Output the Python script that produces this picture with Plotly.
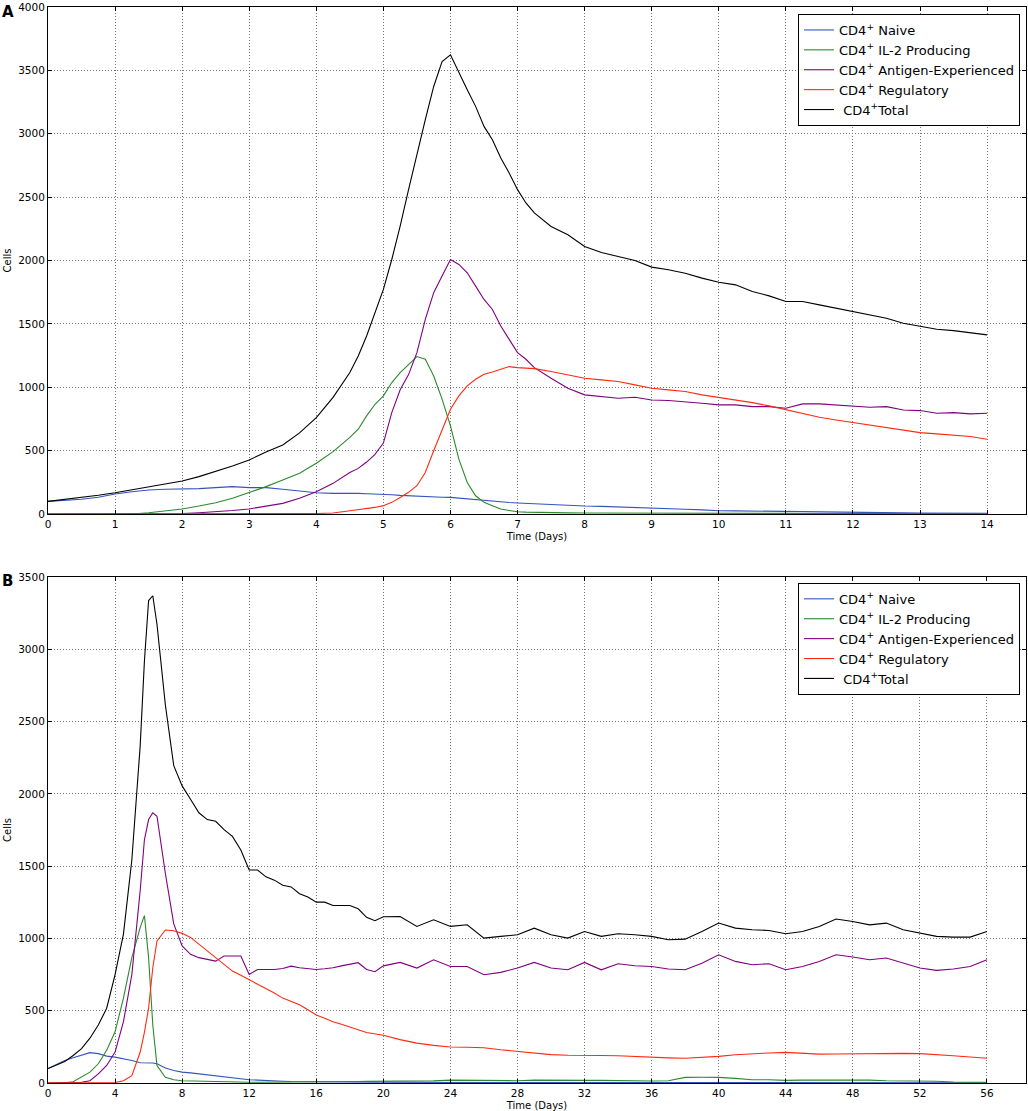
import plotly.graph_objects as go

# ---- panel A: first 14 days (finer sampling around the peak) ----
days_a = [0, 0.25, 0.5, 0.75, 1, 1.25, 1.5, 1.75, 2, 2.25, 2.5, 2.75, 3, 3.25, 3.5, 3.75, 4, 4.25,
          4.5, 4.625, 4.75, 4.875, 5, 5.125, 5.25, 5.375, 5.5, 5.625, 5.75, 5.875, 6, 6.125,
          6.25, 6.375, 6.5, 6.625, 6.75, 6.875, 7, 7.125, 7.25,
          7.5, 7.75, 8, 8.25, 8.5, 8.75, 9, 9.25, 9.5, 9.75, 10, 10.25, 10.5, 10.75,
          11, 11.25, 11.5, 11.75, 12, 12.25, 12.5, 12.75, 13, 13.25, 13.5, 13.75, 14]

naive_a = [100, 105, 116, 132, 158, 176, 190, 195, 195, 200, 208, 216, 208, 208, 195, 184, 168, 163,
           165, 163, 160, 159, 158, 152, 147, 143, 139, 136, 134, 132, 131, 125,
           118, 111, 105, 100, 95, 91, 87, 84, 80,
           72, 68, 63, 60, 55, 50, 42, 40, 37, 33, 26, 25, 23, 20,
           18, 16, 14, 13, 11, 10, 9, 9, 8, 7, 6, 6, 5]
il2_a = [0, 0, 0, 0, 0, 0, 10, 26, 40, 63, 89, 124, 168, 216, 268, 321, 400, 492,
         604, 669, 774, 866, 932, 1037, 1116, 1181, 1242, 1221, 1089, 906, 696, 433,
         249, 144, 92, 66, 39, 28, 18, 15, 13,
         11, 9, 8, 8, 8, 9, 10, 9, 8, 7, 6, 5, 5, 5,
         5, 4, 4, 4, 3, 3, 3, 3, 3, 3, 3, 3, 3]
antigen_a = [0, 0, 0, 0, 0, 0, 0, 1, 3, 10, 18, 28, 40, 60, 84, 124, 176, 242,
             328, 360, 410, 470, 560, 800, 980, 1100, 1273, 1536, 1746, 1877, 2008, 1969,
             1903, 1798, 1693, 1614, 1483, 1378, 1273, 1221, 1155,
             1071, 992, 940, 926, 913, 921, 900, 895, 887, 874, 861, 861, 847, 847,
             834, 869, 869, 861, 853, 842, 847, 821, 816, 795, 800, 790, 795]
treg_a = [0, 0, 0, 0, 0, 1, 1, 1, 2, 2, 2, 2, 3, 3, 3, 3, 4, 8,
          26, 32, 39, 52, 66, 92, 131, 171, 223, 328, 499, 669, 827, 932,
          1011, 1063, 1103, 1121, 1142, 1163, 1155, 1150, 1147,
          1124, 1098, 1071, 1058, 1045, 1019, 992, 979, 966, 940, 921, 900, 879, 853,
          821, 790, 763, 742, 721, 703, 684, 663, 642, 632, 624, 611, 590]
total_a = [100, 115, 129, 148, 168, 190, 216, 238, 260, 295, 334, 378, 426, 490, 545, 640, 761, 920,
           1116, 1247, 1404, 1588, 1772, 2008, 2271, 2559, 2848, 3111, 3373, 3570, 3623, 3478,
           3347, 3216, 3058, 2953, 2809, 2691, 2559, 2454, 2376,
           2269, 2203, 2111, 2063, 2032, 2000, 1948, 1927, 1900, 1861, 1829, 1808, 1756, 1721,
           1677, 1677, 1650, 1624, 1598, 1571, 1545, 1505, 1479, 1458, 1447, 1432, 1413]

# ---- panel B: 56 days ----
days_b = [0, 0.5, 1, 1.5, 2, 2.5, 3, 3.5, 4, 4.5, 5, 5.5, 5.75, 6, 6.25, 6.5,
          7, 7.5, 8, 8.5, 9, 9.5, 10, 10.5, 11, 11.5, 12, 12.5, 13, 13.5, 14, 14.5,
          15, 15.5, 16, 16.5, 17, 17.5, 18, 18.5, 19, 19.5, 20,
          21, 22, 23, 24, 25, 26, 27, 28, 29, 30, 31, 32, 33, 34, 35, 36, 37, 38,
          39, 40, 41, 42, 43, 44, 45, 46, 47, 48, 49, 50, 51, 52, 53, 54, 55, 56]

naive_b = [100, 128, 156, 175, 191, 210, 203, 186, 179, 168, 156, 140, 140, 140, 138, 133,
           103, 86, 75, 70, 63, 55, 47, 40, 33, 28, 23, 20, 16, 14, 12, 10,
           9, 8, 7, 7, 6, 6, 5, 5, 5, 5, 5,
           4, 4, 4, 3, 3, 3, 3, 3, 3, 3, 3, 3, 2, 2, 2, 2, 2, 2,
           2, 2, 2, 2, 2, 2, 2, 2, 2, 2, 2, 2, 2, 2, 2, 2, 2, 2]
il2_b = [0, 0, 2, 9, 40, 75, 133, 226, 354, 587, 867, 1076, 1158, 867, 401, 121,
         40, 23, 16, 14, 12, 10, 9, 8, 7, 6, 5, 5, 5, 5, 5, 6,
         6, 7, 8, 8, 9, 10, 10, 10, 11, 11, 12,
         12, 14, 15, 20, 18, 15, 15, 16, 20, 18, 17, 18, 18, 15, 14, 14, 16, 39,
         40, 39, 32, 23, 22, 18, 20, 20, 22, 23, 20, 16, 15, 18, 12, 7, 6, 5]
antigen_b = [0, 0, 0, 0, 5, 16, 63, 121, 214, 424, 750, 1333, 1682, 1822, 1869, 1845,
             1449, 1100, 948, 890, 867, 855, 843, 878, 878, 878, 750, 785, 785, 785, 792, 808,
             797, 790, 785, 790, 797, 810, 820, 832, 785, 770, 810,
             834, 795, 852, 806, 806, 749, 765, 795, 834, 795, 783, 834, 783, 825, 811, 806, 788, 783,
             829, 887, 841, 818, 825, 783, 806, 841, 887, 871, 852, 864, 829, 795, 779, 788, 806, 852]
treg_b = [0, 0, 0, 0, 1, 1, 2, 2, 3, 16, 51, 214, 350, 517, 797, 983,
          1058, 1053, 1035, 1007, 960, 915, 867, 820, 774, 745, 715, 686, 657, 622, 587, 564,
          541, 506, 471, 448, 424, 406, 389, 369, 349, 340, 330,
          300, 276, 260, 249, 247, 244, 230, 219, 207, 196, 192, 189, 190, 189, 183, 177, 174, 171,
          177, 184, 195, 203, 208, 212, 206, 200, 201, 203, 205, 207, 205, 203, 198, 189, 180, 171]
total_b = [100, 125, 149, 190, 238, 310, 401, 517, 750, 1030, 1542, 2335, 2917, 3337, 3370, 3173,
           2614, 2195, 2055, 1962, 1869, 1822, 1810, 1752, 1706, 1612, 1473, 1473, 1426, 1403, 1368, 1356,
           1309, 1286, 1251, 1251, 1228, 1228, 1228, 1205, 1146, 1123, 1150,
           1152, 1083, 1129, 1083, 1094, 1002, 1014, 1025, 1071, 1025, 1002, 1048, 1014, 1032, 1025, 1014, 991, 995,
           1048, 1106, 1071, 1060, 1055, 1032, 1048, 1083, 1134, 1117, 1094, 1106, 1060, 1037, 1014, 1009, 1009, 1048]

labels = ["CD4<sup>+</sup> Naive", "CD4<sup>+</sup> IL-2 Producing",
          "CD4<sup>+</sup> Antigen-Experienced", "CD4<sup>+</sup> Regulatory",
          "\u00a0CD4<sup>+</sup>Total"]
colors = ["#3355bb", "#2a8a2a", "#800080", "#ff2a10", "#000000"]

fig = go.Figure()

series_a = [naive_a, il2_a, antigen_a, treg_a, total_a]
series_b = [naive_b, il2_b, antigen_b, treg_b, total_b]

for lab, col, ys in zip(labels, colors, series_a):
    fig.add_trace(go.Scatter(x=days_a, y=ys, name=lab, mode="lines",
                             line=dict(color=col, width=1.1),
                             xaxis="x", yaxis="y", legend="legend"))
for lab, col, ys in zip(labels, colors, series_b):
    fig.add_trace(go.Scatter(x=days_b, y=ys, name=lab, mode="lines",
                             line=dict(color=col, width=1.1),
                             xaxis="x2", yaxis="y2", legend="legend2"))

axis_style = dict(
    showline=True, linecolor="black", linewidth=1, mirror="ticks",
    ticks="inside", ticklen=4, tickcolor="black",
    showgrid=True, gridcolor="#777777", griddash="1px,2px", gridwidth=1,
    zeroline=False, tickfont=dict(size=10.5, color="black"),
)
title_font = dict(size=10, color="black")

legend_style = dict(
    bgcolor="white", bordercolor="black", borderwidth=1,
    font=dict(size=13, color="black"), xanchor="right", yanchor="top",
    itemwidth=30, tracegroupgap=0,
)

fig.update_layout(
    width=1028, height=1111,
    margin=dict(l=48, r=1, t=6, b=27),
    paper_bgcolor="white", plot_bgcolor="white",
    font=dict(family="DejaVu Sans", color="black"),
    xaxis=dict(axis_style, range=[0, 14.58], dtick=1, anchor="y", domain=[0, 1],
               title=dict(text="Time (Days)", font=title_font, standoff=4)),
    yaxis=dict(axis_style, range=[0, 4000], dtick=500, anchor="x", domain=[0.5288, 1],
               title=dict(text="Cells", font=title_font, standoff=4)),
    xaxis2=dict(axis_style, range=[0, 58.33], dtick=4, anchor="y2", domain=[0, 1],
                title=dict(text="Time (Days)", font=title_font, standoff=4)),
    yaxis2=dict(axis_style, range=[0, 3500], dtick=500, anchor="x2", domain=[0, 0.4703],
                title=dict(text="Cells", font=title_font, standoff=4)),
    legend=dict(legend_style, x=0.9939, y=0.9935),
    legend2=dict(legend_style, x=0.9939, y=0.4648),
    annotations=[
        dict(text="<b>A</b>", xref="paper", yref="paper", x=-0.049, y=1.0056,
             xanchor="left", yanchor="top", showarrow=False, font=dict(size=15)),
        dict(text="<b>B</b>", xref="paper", yref="paper", x=-0.049, y=0.4768,
             xanchor="left", yanchor="top", showarrow=False, font=dict(size=15)),
    ],
)

# drop the browser's default body margin so the figure sits at the page corner
fig.write_html("out.html", config={"displayModeBar": False},
               post_script="document.body.style.margin = '0';")
